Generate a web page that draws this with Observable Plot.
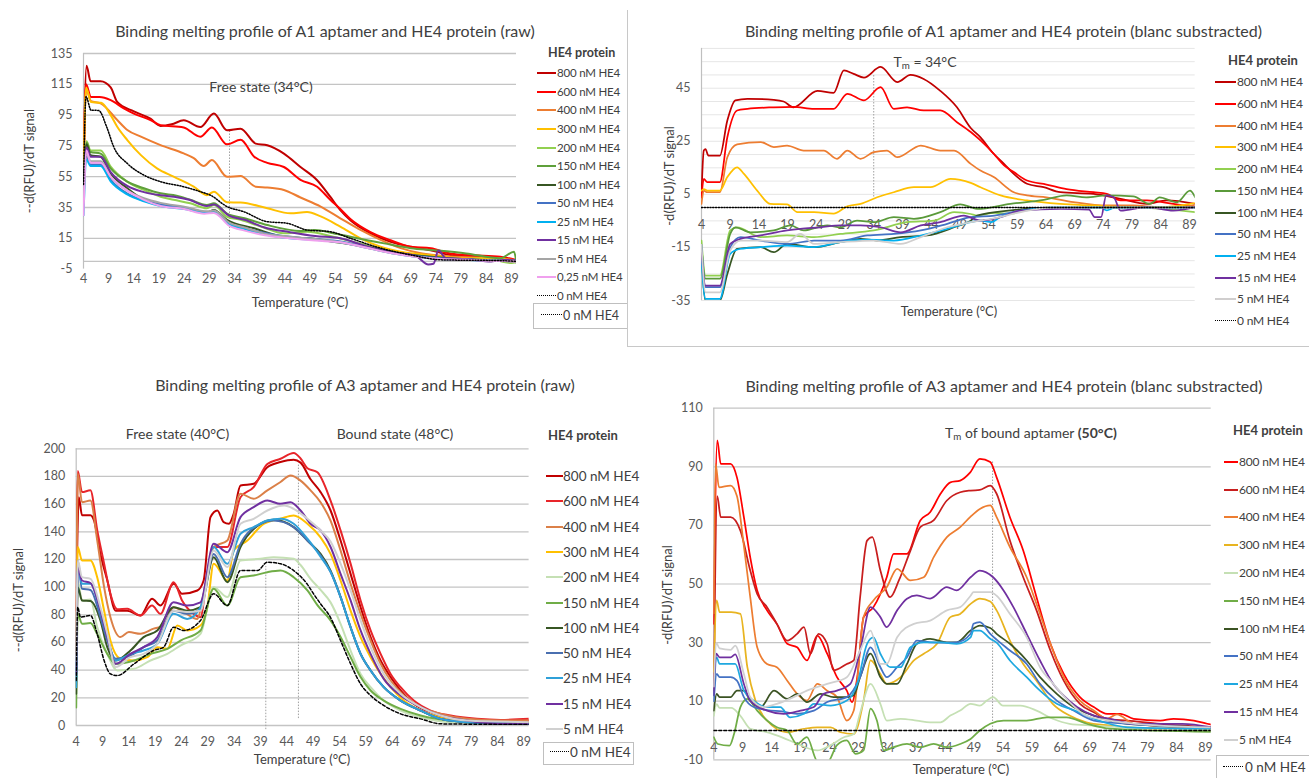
<!DOCTYPE html>
<html><head><meta charset="utf-8">
<script src="https://cdn.jsdelivr.net/npm/d3@7"></script>
<script src="https://cdn.jsdelivr.net/npm/@observablehq/plot@0.6"></script>
<style>
body{margin:0;background:#fff;}
#root{position:relative;width:1309px;height:778px;overflow:hidden;background:#fff;font-family:Lato,"Open Sans",sans-serif;color:#404040;}
.a{position:absolute;white-space:nowrap;line-height:1.2;}
sub{font-size:0.7em;vertical-align:-0.25em;line-height:0;}
</style></head><body><div id="root"></div>
<script>
// ---------- shared ----------
const tempTicks = [4,9,14,19,24,29,34,39,44,49,54,59,64,69,74,79,84,89];
const labelsA1raw = ["800 nM HE4","600 nM HE4","400 nM HE4","300 nM HE4","200 nM HE4","150 nM HE4","100 nM HE4","50 nM HE4","25 nM HE4","15 nM HE4","5 nM HE4","0,25 nM HE4","0 nM HE4"];
const labels12 = ["800 nM HE4","600 nM HE4","400 nM HE4","300 nM HE4","200 nM HE4","150 nM HE4","100 nM HE4","50 nM HE4","25 nM HE4","15 nM HE4","5 nM HE4","0 nM HE4"];

// ---------- Panel 1: A1 raw ----------
const a1raw_800 = [[4,50],[4.6,127],[5.4,117],[7.4,117],[9.4,113],[10.7,103.5],[14,97.4],[17.3,92.7],[19.3,88],[21.5,89],[23.9,91.6],[27.2,87.2],[29.9,96],[32.5,85.1],[35.2,86.2],[38.2,76.5],[40.5,75.4],[43.8,70],[47.1,61.3],[50.4,52.7],[53,42],[55,33.3],[57,26.8],[61,18.2],[65,12.7],[69,9.5],[72.9,7.3],[76.9,4.1],[81.5,3],[86.8,2],[90,0.8]];
const a1raw_600 = [[4,60],[4.5,115],[5.5,106.7],[7.2,106.7],[9.4,104.7],[12,99.4],[14,96],[17.3,91.8],[19.3,88.5],[23.9,87],[27.2,81],[29.5,87],[32.5,76],[35.2,79],[37.9,68],[40.5,64],[43.8,61.3],[47.1,53],[50.4,48.5],[53,40],[55,34],[57,27.5],[61,19],[65,13.7],[69,9.5],[73,8.5],[77,5],[81.5,4],[86.8,3],[90,0.8]];
const a1raw_400 = [[4,50],[4.5,112],[5.5,104],[7.4,102.6],[10.7,91.8],[12.7,85.3],[15.4,81],[19.3,75.5],[23.9,70.1],[25.9,67],[27.9,62],[29.5,65.8],[32.5,55],[35.2,55.4],[38.2,48.5],[40.5,48],[43.8,46.4],[47.1,41.5],[51.1,35.6],[55,28],[59,20.4],[63,14],[67,8.6],[71,5.3],[77,3.2],[86.8,2],[90,0.5]];
const a1raw_300 = [[4,50],[4.5,113],[5.5,103.5],[7.5,103],[9.4,95],[10.7,87.4],[12.7,78.8],[15.4,69],[18.6,60.4],[21.9,55],[25.9,48.5],[28.5,43],[29.9,45.3],[32.5,38.4],[35.2,38.2],[40.5,34.5],[45.1,31.2],[48.4,32],[51.1,29.2],[55,22.6],[59,15],[63,9.5],[67,6.3],[73,4],[80,2],[86,2],[90,0]];
const a1raw_200 = [[4,35],[4.6,78],[5.4,72],[7.4,72],[9.4,61.5],[12.7,51.8],[16,46.4],[19.3,42],[21.9,40],[25.2,37.7],[28.5,34.5],[29.9,36.6],[32.5,29],[35.2,27],[39.2,22.6],[43.8,18.2],[48.4,19.3],[53.6,16],[60,10.6],[67,5.2],[74,2.5],[80,1.5],[86,0.5],[89,-1],[90,-0.5]];
const a1raw_150 = [[4,40],[4.6,77],[5.4,71],[7.4,70],[9.4,60.4],[12.7,51.8],[16,47.5],[19.3,44.2],[22.5,42.7],[25.2,40],[28.5,36.6],[29.9,37.7],[32.5,31],[36,28],[40.5,23.6],[47.1,19.8],[50,20.4],[53.6,18.3],[57,16],[63.7,11.7],[69,8.6],[73.6,7.3],[80,5.2],[86.8,2],[89.5,6.3],[90,-1]];
const a1raw_100 = [[4,48],[4.6,76],[5.4,69],[7.4,68],[9.4,57],[12.7,47.5],[16,40],[19.3,36.6],[23.9,34.5],[28.5,31.7],[29.9,33.4],[32.5,27],[37.9,21.5],[43.8,16],[50.4,14.4],[53.6,12.8],[60,9.5],[67,5.2],[76.9,2],[90,0]];
const a1raw_50 = [[4,42],[4.6,68],[5.4,63],[7.4,63],[9.4,53],[12.7,44],[16,39.5],[19.3,37],[24,35],[28.5,32],[29.9,32],[33,24],[36,21.5],[40,18.5],[45,16],[50,14.5],[55,13],[60,9.5],[65,6],[70,3.5],[75,2],[80,1.5],[85,0.5],[90,0.5]];
const a1raw_25 = [[4,30],[4.6,66],[5.4,62],[7.4,62],[9.4,52],[12.7,43.5],[16,39],[19.3,36],[24,34],[28.5,31.5],[29.9,32],[33,24],[36,21],[40,17.5],[45,15],[50,14],[55,12.5],[60,9],[65,5.5],[70,3],[75,1.5],[80,1],[85,0.5],[90,0.5]];
const a1raw_15 = [[4,45],[4.6,74],[5.4,68],[7.4,68],[9.4,58],[12.7,49],[16,45],[19.3,43],[22,42],[25,40],[28.5,36],[29.9,37],[33,29.5],[36,27],[40,22],[45,19],[50,16.5],[55,15],[60,10],[65,6],[70,3.5],[72.5,-2],[73.5,-1.5],[74.5,7],[76,2],[80,1.5],[85,0],[88,1],[90,0.5]];
const a1raw_5 = [[4,38],[4.6,70],[5.4,65],[7.4,65],[9.4,55],[12.7,46],[16,41],[19.3,38],[24,35.5],[28.5,32.5],[29.9,33],[33,25],[36,22],[40,18],[45,16],[50,14.5],[55,12.5],[60,9],[65,5.5],[70,3],[75,1.5],[80,1],[85,0.5],[90,0]];
const a1raw_025 = [[4,30],[4.6,72],[5.4,64],[7.4,64],[9.4,55],[12.7,46],[16,40],[19.3,36],[24,34],[28,31],[29.9,31.5],[33,23],[36,20],[40,17],[45,15],[50,13.5],[55,12.5],[60,9],[65,5.5],[70,3],[75,1.5],[80,1],[85,0.5],[90,0]];
const a1raw_0 = [[4,50],[4.5,107],[5.5,98.2],[7,98],[8.6,87.4],[10,74.4],[12.7,63.6],[16,56],[19.3,51.8],[23.9,48.5],[27.2,45.3],[29.2,43],[32.5,35.6],[35.8,32.3],[40.5,25.8],[44.4,24.8],[48.4,20.4],[53,19.3],[57,15],[63,8.6],[69,4.2],[75,1],[86.8,0.5],[90,0]];
const a1rawTicks = [-5,15,35,55,75,95,115,135];

// ---------- Panel 2: A1 blanc subtracted ----------
const a1sub_800 = [[4,5],[4.4,21.5],[4.7,22],[5.2,19.6],[7.2,19.6],[8.5,32.8],[9.9,40.4],[12,41],[16.6,40.6],[18.3,40],[20,37.8],[24.2,44],[27,43.2],[28.8,51.7],[30.5,50.4],[32.3,49],[35.2,53],[38.1,47.3],[40.4,50],[42.7,48.5],[45.6,44],[48.5,37.8],[50.9,30],[52.6,26.5],[54.9,20.3],[56.7,16.5],[58.4,12.7],[60.7,9],[63.6,7.7],[66.5,5.8],[72.3,5.2],[77,3.3],[81.6,1.4],[85,2.7],[90,1.4]];
const a1sub_600 = [[4,3.8],[4.4,10.8],[5,9.6],[7.2,9.6],[8.5,26.5],[10.2,36.6],[12,37.2],[16.6,37.8],[20,38],[23.6,37.2],[27,37.2],[29.4,42.9],[32.3,40.4],[35.2,45.4],[37.5,37.2],[39.8,37.8],[42.7,36.6],[45.6,36.6],[48.5,32.2],[50.9,28.5],[52.6,25.3],[54.9,20.3],[56.7,15.9],[58.4,13.4],[60.7,10.2],[64.1,8.7],[67.6,7],[72.3,5.8],[74.6,5.2],[77,2.7],[81.6,2.7],[86.2,1.4],[90,0.2]];
const a1sub_400 = [[4,1.4],[4.4,6.4],[5,5.8],[7.2,5.8],[8.5,19],[10.2,23.8],[14.3,24.7],[16.6,22.8],[18.9,23.4],[21.8,21.5],[25.3,21.5],[27.6,18.4],[29.4,21.5],[31.7,18.4],[34,20.9],[36.3,21.5],[38.1,19],[42.2,23.4],[45.6,21.5],[48,21.5],[50.9,16.5],[52.6,14],[54.9,11.5],[58.4,5.8],[60.7,4.6],[64.1,3.9],[68.8,2.1],[74.6,0.8],[79.2,0.8],[83.8,0.2],[90,0.8]];
const a1sub_300 = [[4,6.4],[4.4,7],[5,6.4],[7.2,6.4],[8.5,11.5],[10.2,15.2],[11.4,12.7],[13.7,6.4],[16,1.4],[18.9,1.2],[20.7,-1.7],[23.6,-1.7],[27,-2.3],[29.4,0.5],[31.7,1.4],[34.6,3.9],[37.5,5.8],[41,7.7],[43.9,7.7],[47.4,10.8],[50.9,9.3],[52.6,7.7],[56.1,4.6],[60.7,2.7],[66.5,1.4],[72.3,0.8],[78,0.2],[84,0.2],[90,1.7]];
const a1sub_200 = [[4,-12.4],[4.7,-25.6],[7.2,-25.6],[9,-8.6],[10.2,-7.4],[14.3,-11.1],[18.9,-10.5],[23.6,-11.1],[28.2,-9.9],[34,-8.6],[39.8,-5.5],[44.5,-4.9],[48,-1.7],[50.9,-2.4],[52,-3],[55,-2],[58,-2.3],[60.7,-0.5],[70,0],[80,0],[90,-1.7]];
const a1sub_150 = [[4,-15],[4.7,-26.8],[7.2,-26.8],[9,-9.9],[9.9,-7.4],[12.5,-9.3],[16.6,-8.6],[19.5,-6.7],[21.8,-8.6],[25.9,-6.7],[28.2,-7.4],[31.1,-4.9],[34,-5.5],[37.5,-3.6],[41,-4.2],[45.6,-1.7],[49.1,1.2],[50.9,0.2],[52,-0.5],[57.8,1.4],[63.6,2.9],[67.6,4.6],[71,3.9],[74.6,4.6],[79.2,4.2],[82.1,1.4],[83.8,3.9],[86.8,2],[89.1,6.4],[90,3.9]];
const a1sub_100 = [[4,-16],[4.7,-35],[7.2,-35],[8.5,-25],[10.2,-15.5],[14.3,-14.9],[16.6,-16.8],[18.9,-13.7],[23.6,-14.9],[28.2,-13],[31.7,-11.8],[34.6,-12.4],[38.7,-11.1],[43.3,-10.5],[48,-7.4],[50.9,-4.9],[52,-3],[58,-1],[64,0],[90,0]];
const a1sub_50 = [[4,-14],[4.7,-30],[7.2,-30],[9,-15],[10.8,-11.1],[14.3,-12.4],[18.9,-13.7],[23.6,-12.4],[28.2,-12.4],[32.9,-10.5],[37.5,-9.9],[42.2,-8.6],[46.8,-6.1],[50.9,-3.6],[55,-3],[60,-1],[65,0],[90,0]];
const a1sub_25 = [[4,-20],[4.7,-34.4],[7.2,-34.4],[9,-17.4],[10.8,-15.5],[14.3,-14.9],[18.9,-14.3],[23.6,-14.9],[28.2,-13],[32.9,-12.1],[37.5,-12.4],[42.2,-10.5],[46.8,-8],[50.9,-5.5],[52.6,-4.9],[54.5,-5.5],[56,-3.6],[60,-1],[65,0],[73.5,0],[74.6,-1],[76,0],[90,0]];
const a1sub_15 = [[4,-17],[4.7,-29.4],[7.2,-29.4],[9,-13.7],[10.8,-11.8],[14.3,-10.5],[18.9,-8.6],[21.2,-8],[24.7,-7.4],[28.2,-6.7],[31.7,-6.7],[35.2,-7.4],[38.7,-9.3],[42.2,-6.7],[45.6,-5.5],[49.7,-3],[52.6,-4.9],[56.1,-3.6],[59.6,-1.1],[66.5,-0.5],[71.5,-0.8],[72.5,-3.6],[73.6,-3.6],[74.5,4.6],[75.8,3.9],[77,-1.1],[81.6,0.2],[86.2,-1.1],[90,0.2]];
const a1sub_5 = [[4,-14],[4.7,-31.9],[7.2,-31.9],[9,-16.2],[10.8,-12.4],[14.3,-12.4],[18.9,-13],[21.2,-9.9],[23.6,-13.7],[28.2,-13],[34,-12.4],[38.7,-13.7],[42.2,-11.1],[46.8,-7.4],[50.9,-5.5],[55,-4],[60,-1.5],[65,0],[90,0]];
const a1sub_0 = [[4,0],[90,0]];
const a1subTicks = [-35,-15,5,25,45];

// ---------- Panel 3: A3 raw ----------
const a3raw_800 = [[4,83],[4.5,165],[5.1,152],[6.7,152],[7.4,148],[8.6,124],[9.9,105],[11.5,83],[13.7,83],[16.2,79.5],[18.4,91.6],[20,86.7],[22.5,102.4],[24.1,95.2],[27,97.6],[28.2,104.8],[29.5,150.6],[30.8,155.4],[32,147],[33,145.8],[33.9,153],[35.2,173.5],[37.7,174.7],[40.3,186.7],[42.8,190.4],[45.3,192],[46.6,190],[48.5,178],[50.4,168.7],[52.3,155.4],[54.2,133.7],[56.1,109.6],[58,85.5],[59.9,63.9],[61.8,47],[63.7,35],[65.6,25.3],[68.1,15.7],[71.3,9.6],[75.1,6],[80.1,4],[90,3.6]];
const a3raw_600 = [[4,52],[4.3,184],[5.1,168.7],[6.7,170],[8,141],[9.3,117],[10.5,95],[11.8,84],[13.7,84.3],[16.2,79.5],[18.4,86.7],[20,80.7],[22.5,103.6],[24.1,90.4],[26.3,80.7],[27.6,78.3],[28.9,109.6],[30.1,129],[32.7,129],[35.2,165],[37.7,172.3],[40.3,189],[42.8,192.8],[45.3,197],[46.6,193],[47.9,186],[49.8,183],[52.3,162.6],[54.2,141],[56.1,117],[58,90.4],[59.9,68.7],[61.8,51.8],[63.7,37.3],[65.6,27.7],[68.1,18],[71.3,10.8],[75.1,7.2],[80.1,4.8],[84.6,4],[90,4.8]];
const a3raw_400 = [[4,47],[4.3,182],[5.1,161.4],[6.7,162.6],[8,133.7],[9.3,100],[10.5,78.3],[12.4,63.9],[14,67.5],[16.2,66.3],[18.7,70],[20.6,72.3],[22.5,85.5],[24.4,82],[27,77],[28.2,95.2],[30.1,129],[32.7,133.7],[35.2,167.5],[37.7,163.9],[40.3,170],[42.8,176],[44.7,180.7],[46.6,177],[48.5,170],[50.4,161.4],[52.3,148],[54.2,126.5],[56.1,102.4],[58,80.7],[59.9,61.4],[61.8,44.6],[63.7,32.5],[66.2,21.7],[69.4,13.3],[73.2,8.4],[78.2,4.8],[84.6,3.6],[90,3.6]];
const a3raw_300 = [[4,52],[4.3,129],[5.1,119.3],[6.7,119.3],[8,107],[9.3,83],[10.5,61.4],[12.4,48.2],[15,47],[17.5,49.4],[19.4,56.6],[21.3,55.4],[23.2,72.3],[25.1,68.7],[27.6,72.3],[28.9,85.5],[30.1,116.9],[32.7,104.8],[33.9,126.5],[36.5,133.7],[39.6,145.8],[42.8,149.4],[45.3,151.8],[47.9,145.8],[50.4,136],[52.3,124],[54.2,104.8],[56.1,83],[58,63.9],[59.9,49.4],[61.8,37.3],[63.7,27.7],[66.2,18],[69.4,10.8],[73.2,6],[78.2,2.4],[90,1.7]];
const a3raw_200 = [[4,27.7],[4.3,104.8],[5.1,90.4],[6.7,91],[8,71],[9.9,51.8],[11.8,39.8],[15,41],[18.1,47],[21.3,51.8],[23.8,57.8],[27.6,66.3],[30.1,100],[32.7,92.8],[35.2,119.3],[39,120.5],[41.5,121.7],[45.3,120.5],[46.6,116],[48.5,106],[50.4,98],[52.3,89],[54.2,73.5],[56.1,54.2],[58,37.3],[59.9,27.7],[62.4,18],[65.6,10.8],[69.4,6],[75.1,2.4],[90,1.2]];
const a3raw_150 = [[4,13],[4.3,80.7],[5.1,73.5],[6.7,74],[8,66],[9.9,51.8],[11.5,44.6],[15,47],[18.1,51.8],[21.3,55.4],[23.8,61.4],[27.6,68.7],[30.1,98.8],[32.7,86.7],[35.2,107.2],[37.7,108.4],[40.3,110.8],[42.8,112],[45.3,107.2],[47.9,97.6],[49.8,87],[52.3,76],[54.2,64],[56.1,49.4],[58,35],[59.9,25.3],[62.4,18],[65.6,12],[69.4,7.2],[75.1,3.6],[90,1.2]];
const a3raw_100 = [[4,23],[4.3,100],[5.1,90.4],[6.7,90],[8.6,76],[9.9,56.6],[11.5,47],[14.3,54.2],[16.8,63.9],[19.4,68.7],[22.5,85.5],[25.1,83],[27.6,85.5],[30.1,121.7],[32.7,103.6],[35.2,129],[39,145.8],[41.5,148.7],[45.3,143.4],[47.9,133.7],[50.4,124],[52.3,112],[54.2,93],[56.1,71],[58,51.8],[59.9,39.8],[62.4,27.7],[65.6,18],[69.4,10.8],[73.2,4.8],[78.2,2.4],[90,1.2]];
const a3raw_50 = [[4,32],[4.3,119],[5.1,98.8],[6.7,98],[8.6,78.3],[9.9,61.4],[11.5,48.2],[14.3,50.6],[16.8,56.6],[19.4,61.4],[22.5,83],[25.1,80.7],[27.6,84.3],[30.1,124],[32.7,107.2],[35.2,131.3],[39,145.8],[41.5,148.2],[45.3,143.4],[47.9,133.7],[50.4,123],[52.3,111],[54.2,92.8],[56.1,71],[58,51.8],[59.9,39.8],[62.4,27.7],[65.6,18],[69.4,10.8],[73.2,4.8],[78.2,2.4],[90,1.2]];
const a3raw_25 = [[4,27.7],[4.3,114.5],[5.1,102.4],[6.7,102.4],[8.6,82],[9.9,63.9],[11.5,47],[14.3,51.8],[16.8,54.2],[19.4,59],[22.5,80.7],[25.1,77],[27.6,85.5],[30.1,129],[32.7,116.9],[35.2,138.6],[37.7,143.4],[40.3,148.2],[42.8,149.4],[45.3,145.8],[47.9,135],[50.4,122],[52.3,111],[54.2,92.8],[56.1,71],[58,51.8],[59.9,39.8],[62.4,27.7],[65.6,18],[69.4,10.8],[73.2,4.8],[78.2,2.4],[90,1.2]];
const a3raw_15 = [[4,37],[4.3,114.5],[5.1,104.8],[6.7,103],[8.6,83],[9.9,63.9],[11.5,44.6],[14.3,51.8],[16.8,56.6],[19.4,63.9],[22.5,89],[25.1,86.7],[27.6,89],[30.1,131.3],[32.7,125.3],[35.2,150.6],[37.7,157.8],[40.3,162.6],[42.8,160.2],[44.7,161.4],[46.6,155.4],[48.5,145.8],[50.4,141],[52.3,129],[54.2,109.6],[56.1,90.4],[58,68.7],[59.9,51.8],[62.4,33.7],[65.6,21.7],[69.4,13.3],[73.2,7.2],[78.2,3.6],[84.6,1.2],[90,1.2]];
const a3raw_5 = [[4,47],[4.3,119.3],[5.1,107.2],[6.7,106],[8.6,85.5],[9.9,66.3],[11.5,42.2],[14.3,49.4],[16.8,51.8],[19.4,59],[22.5,83],[25.1,82],[27.6,83],[30.1,126.5],[32.7,114.5],[35.2,145.8],[37.7,149.4],[40.3,155.4],[43.5,159],[45.3,156.6],[47.9,149.4],[50.4,141],[52.3,133],[54.2,117],[56.1,97.6],[58,76],[59.9,56.6],[62.4,37.3],[65.6,22.9],[69.4,13.3],[73.2,7.2],[78.2,3.6],[90,2.4]];
const a3raw_0 = [[4,32.5],[4.3,85.5],[4.8,78.3],[6.7,79.5],[8,66],[9.3,47],[10.5,37.3],[11.8,36.1],[15,44.6],[18.7,54.2],[20.6,56.6],[22.5,71],[24.4,68.7],[27.6,75.9],[30.1,95.2],[32.7,86.7],[35.2,112],[38.4,112],[40.3,118],[42.8,116.9],[45.3,112],[47.9,102],[49.1,95],[50.4,88],[52.3,78],[54.2,61.4],[56.1,44.6],[58,30],[59.9,21.7],[62.4,14.5],[65.6,8.4],[69.4,4.8],[73.2,1.2],[90,0.7]];
const a3rawTicks = [0,20,40,60,80,100,120,140,160,180,200];

// ---------- Panel 4: A3 blanc subtracted ----------
const a3sub_800 = [[4,36.4],[4.6,99],[5.2,91],[6.9,91],[8,86.4],[9.2,72.8],[10.3,59.1],[11.5,47.8],[13.2,41],[14.9,36.4],[16.7,29.6],[18.4,28.4],[20.1,23.9],[21.9,32.4],[23.6,26.2],[25.3,18.2],[27,13.6],[27.9,9.7],[28.8,18.2],[29.9,38.7],[31.6,42.1],[33.9,52.3],[35.1,60.3],[37.4,60.3],[39.7,71.7],[41.4,74.5],[43.2,80.8],[44.9,84.7],[46.6,85.3],[48.3,88],[50,92.7],[51.8,91.6],[52.9,86.4],[55.2,72.8],[57.5,61.4],[59.8,45.5],[62.2,29.6],[64.5,19.3],[67.3,11.4],[69.7,8],[72,5.7],[74.3,5.7],[76.6,4],[81.2,3.4],[83.5,4],[87,3.4],[89.3,2.3],[90,2]];
const a3sub_600 = [[4,13.6],[4.6,80],[5.2,72.8],[6.9,72.8],[8.6,68.2],[10.3,54.6],[11.5,46.6],[13.2,42.1],[14.9,36.4],[16.7,30.7],[18.4,33],[19.6,35.3],[20.7,26.2],[22.1,33],[23.6,29.6],[24.7,20.5],[27,22.7],[28.2,23.9],[29.3,45.5],[30.5,64.8],[31.4,66],[32.8,54.6],[34.5,45.5],[36,51.2],[38,61.4],[39.7,69.4],[42,71.7],[44.3,78.5],[46.6,81.3],[48.4,81.9],[50,82.1],[51.8,83.6],[52.9,80.8],[55.2,64.8],[57.5,52.3],[59.8,41],[62.2,27.3],[64.5,17],[67.3,9.1],[69.7,6.2],[72,4],[75.5,3.4],[81.2,2.3],[90,1.1]];
const a3sub_400 = [[4,40],[4.3,91],[4.9,83],[6.9,83.6],[8,80],[9.2,63],[10.3,45.5],[11.5,28.4],[13.2,22.7],[14.9,21.6],[16.7,17],[18.4,12.5],[20.1,10.2],[21.9,15.9],[23.6,13.6],[25.3,11.4],[27,3.4],[28.2,6.8],[29.9,38.7],[31.6,44.4],[33.9,48.9],[35.7,55.2],[38,51.2],[40.3,52.3],[42,59.1],[44.3,66],[46.6,69.4],[48.4,73],[50,75.6],[51.8,76.8],[52.9,72.8],[55.2,62.6],[58.1,52.3],[59.8,43.2],[62.2,29.6],[64.5,18.2],[67.3,10.2],[69.7,6.8],[72,4],[73.7,5.5],[76.6,2.3],[90,0.6]];
const a3sub_300 = [[4,20],[4.5,44.4],[5,40.4],[7,40.4],[8.6,39.8],[9.8,21.6],[11.2,10.2],[13.2,3.4],[16.7,-0.6],[19.6,0.6],[21.9,1.1],[24.2,1.1],[25.9,-0.6],[28.2,-1.2],[29.9,10.2],[31.1,23.9],[32.8,19.3],[33.9,15.9],[36.3,18.2],[38.6,23.9],[40.3,26.2],[42.6,29.6],[44.9,38.7],[46.6,39.8],[48.4,43.2],[50,45],[51.8,44],[52.9,41],[55.2,30.7],[57.5,22.7],[59.8,17],[62.6,9.1],[65.5,5.1],[68.4,2.8],[72.4,1.7],[81,0.6],[90,0]];
const a3sub_200 = [[4,5],[4.5,9],[5,7.7],[7,7.7],[8.6,5],[10.3,0.6],[13,-0.5],[16,-2.5],[18.4,-4.5],[21.9,-6.8],[24.2,-5],[26.5,-2.3],[28.2,-1.2],[29.3,6],[31.1,15.9],[32.8,9.1],[33.9,3.4],[36.3,4],[39.1,3.4],[41.4,2.8],[43.2,2.8],[44.9,5.1],[46.6,6.8],[48.4,9.1],[50,8.5],[51.2,10.2],[52.3,11.4],[54,8.5],[57,8.5],[59.8,6.8],[62.6,4],[65.5,2.3],[69.5,1.7],[75.3,1.1],[90,0]];
const a3sub_150 = [[4,-2.3],[4.7,-4.6],[6.7,-5.2],[7.5,-1.2],[8.6,8],[9.8,10.8],[11.5,6.8],[13.2,3.4],[14.9,1.1],[16.7,0],[18.4,-4.6],[20.1,-2.3],[21.9,-10.5],[23.6,-11],[25.3,-5],[27,-3.4],[28.5,-8],[29.9,-6.8],[31.1,7.5],[32.2,3.4],[33.4,-6.8],[35.1,-5.7],[37.4,-4.6],[39.7,-5.7],[42,-4.6],[44.3,-5.7],[46.6,-4.6],[48.4,-2.9],[50,0],[51.8,2.3],[54.1,3.4],[58.1,3.4],[61.6,4.5],[65,4.5],[68.5,2.3],[72.5,0.6],[90,-0.5]];
const a3sub_100 = [[4,6.8],[4.5,12.5],[5,11.4],[6.9,11.4],[8,13.6],[9.2,13.6],[10.3,10.2],[12.1,8],[14.4,13.6],[16.7,10.8],[18.4,12.5],[20.1,9.7],[22.5,12.5],[24.7,11.4],[27,11.4],[28.2,12],[29.3,18.2],[31.1,26.2],[32.8,18.2],[33.9,15.9],[35.7,15.9],[37.4,22.7],[39.1,29.6],[41.4,31.3],[44.3,30.1],[46,30.1],[48.4,34.1],[50,35.8],[51.8,35],[52.9,33],[55.2,29.6],[58.1,23.9],[60.4,18.2],[63.3,12.5],[66.2,8],[69.7,5.1],[75.5,2.3],[90,1.1]];
const a3sub_50 = [[4,10],[4.5,19.3],[5,18.2],[6.9,18.2],[8,17],[9.2,11.4],[10.9,8],[13.2,7],[15.8,6.5],[18.4,5.7],[21.3,6.8],[23.6,9.7],[27,11.4],[29.3,18.2],[31.1,28.4],[32.8,21.6],[33.9,18.2],[35.7,21.6],[37.4,25],[39.1,30.7],[41.4,30.1],[44.3,30],[46,30.1],[48.4,33],[48.9,36.4],[50,37],[51.8,33],[52.9,31],[55.2,27.3],[58.1,22.7],[60.4,15.9],[63.3,10.2],[66.2,6.8],[69.7,3.4],[75.5,2.3],[90,1.1]];
const a3sub_25 = [[4,12],[4.5,25],[5,22.7],[7.7,22.7],[9.2,13.6],[10.9,10.2],[13.2,8],[15.5,8],[17.2,4.5],[19.6,5.7],[21.3,9.1],[24.2,8.5],[27,10.2],[28.8,15.9],[30.5,29.6],[31.6,31.8],[32.8,26.2],[34.5,21.6],[36.3,21.6],[38,28.4],[40.3,30.1],[43.2,30.1],[46,29.6],[48.4,31.8],[48.9,34.1],[50,34.1],[51.8,31.3],[52.9,30],[55.2,23.9],[58.1,18.2],[60.4,13.6],[63.3,9.1],[66.2,7],[69.7,4],[75.5,1.1],[90,0.6]];
const a3sub_15 = [[4,12],[4.4,26.2],[5,25],[6.9,25],[7.7,26],[9.2,15.9],[10.3,10.2],[13.2,6.8],[16.1,5.7],[19,6.8],[21.3,8],[23,12.5],[25.3,13.6],[27.6,15.9],[29.3,27.3],[31.1,42.1],[32.8,38.7],[33.9,35.3],[35.7,41],[37.4,45],[39.1,46.1],[41.4,45],[44.3,48.9],[46,47.8],[48.4,52.3],[50,54.6],[52.3,52.3],[54.1,47.8],[55.8,42.1],[58.1,33],[60.4,23.9],[62.7,15.9],[64.5,11.9],[66.8,8],[69.7,5.1],[72.5,4],[76.5,2.3],[85,2.3],[90,1.1]];
const a3sub_5 = [[4,15],[4.4,30],[5,28],[6.9,27.5],[7.7,29],[9.2,19.3],[10.3,11.4],[12.6,8],[14.9,9.1],[17.8,11.4],[20.1,13.6],[23.6,15.9],[27,18.2],[29.3,27.3],[31.1,34.1],[32.8,22.7],[33.9,22.7],[35.7,31.8],[38.6,36.4],[41.4,37.5],[44.3,41],[46.6,42.1],[48.4,46],[48.9,47.2],[51.8,47.2],[52.9,46],[55.2,39.8],[58.1,31.8],[60.4,21.6],[62.7,15.9],[65.5,9.7],[68.4,5.1],[72.5,3.4],[81,1.7],[90,1.1]];
const a3sub_0 = [[4,0],[90,0]];
const a3subTicks = [-10,10,30,50,70,90,110];

// ---------- styles ----------
const FONT = "Lato, 'Open Sans', sans-serif";
const colA1raw = ["#C00000","#FF0000","#ED7D31","#FFC000","#92D050","#5FA03A","#375623","#4472C4","#00B0F0","#7030A0","#A5A5A5","#F0A0EE","#000000"];
const colA1sub = ["#C00000","#FF0000","#ED7D31","#FFC000","#92D050","#5A9A3A","#375623","#4472C4","#00B0F0","#7030A0","#D0CECE","#000000"];
const colA3raw = ["#C00000","#E8252A","#DB8048","#FFC000","#C5E0B4","#70AD47","#375623","#4A6FB0","#2FA0D8","#7030A0","#D0D0D0","#000000"];
const colA3sub = ["#FF0000","#C81E1E","#ED7D31","#E8B420","#C5E0B4","#70AD47","#3B5323","#4472C4","#1FA8E0","#7030A0","#D0D0D0","#000000"];

const root = document.getElementById("root");
function el(tag, css, html, parent) {
  const e = document.createElement(tag);
  e.className = "a";
  Object.assign(e.style, css);
  if (html != null) e.innerHTML = html;
  (parent || root).appendChild(e);
  return e;
}
function ctext(html, cx, cy, size, parent, extra) {
  return el("div", Object.assign({left: cx + "px", top: cy + "px", fontSize: size + "px", transform: "translate(-50%,-50%)"}, extra || {}), html, parent);
}
function ltext(html, x, cy, size, parent, extra) {
  return el("div", Object.assign({left: x + "px", top: cy + "px", fontSize: size + "px", transform: "translate(0,-50%)"}, extra || {}), html, parent);
}
function vtext(html, cx, cy, size, parent) {
  return el("div", {left: cx + "px", top: cy + "px", fontSize: size + "px", transform: "translate(-50%,-50%) rotate(-90deg)"}, html, parent);
}
function legendItem(label, color, dashed, x1, x2, tx, cy, size, parent, extra) {
  el("div", {left: x1 + "px", top: (cy - 1) + "px", width: (x2 - x1) + "px", height: "0px",
    borderTop: dashed ? "1.5px dotted #000" : "2px solid " + color}, "", parent);
  ltext(label, tx, cy, size, parent, extra);
}

function seriesLines(series, colors, sw, dash) {
  return series.map((s, i) => Plot.line(s, Object.assign({
    x: d => d[0], y: d => d[1], stroke: colors[i], curve: "monotone-x", clip: true,
    strokeWidth: i === series.length - 1 ? 1.5 : sw
  }, i === series.length - 1 ? {strokeDasharray: dash} : {})));
}

function makePlot(o) {
  const svg = Plot.plot({
    width: o.w, height: o.h,
    marginLeft: o.mL, marginRight: o.mR, marginTop: o.mT, marginBottom: o.mB,
    x: {domain: [4, 90], axis: null},
    y: {domain: o.yDomain, axis: null},
    style: {fontFamily: FONT, background: "transparent", overflow: "visible"},
    marks: [
      Plot.ruleY(o.grid, {stroke: o.gridColor, strokeWidth: o.gridWidth}),
      Plot.ruleX([4], {y1: o.yDomain[0], y2: o.yDomain[1], stroke: "#bfbfbf", strokeWidth: 1.2}),
      ...(o.vlines || []).map(v => Plot.ruleX([v[0]], {y1: v[1], y2: v[2], stroke: "#a0a0a0", strokeWidth: 1, strokeDasharray: "1.5,1.5"})),
      Plot.text(o.yTicks, {x: 4, y: d => d, text: d => String(d), textAnchor: "end", dx: -11, fontSize: 12.5, fill: "#595959"}),
      Plot.text(tempTicks, {x: d => d, y: o.xLabelY, text: d => String(d), dy: o.xLabelDy, fontSize: 12.5, fill: "#595959"}),
      ...seriesLines(o.series, o.colors, o.sw, o.dash)
    ]
  });
  Object.assign(svg.style, {position: "absolute", left: o.left + "px", top: o.top + "px"});
  (o.parent || root).appendChild(svg);
}

const tight = {letterSpacing: "-0.2px"};

// ---------- Panel 1 ----------
const p1 = el("div", {left: "0px", top: "0px", width: "627px", height: "347px", overflow: "hidden"});
makePlot({parent: p1, left: 0, top: 0, w: 627, h: 330, mL: 83, mR: 111, mT: 53, mB: 61.4,
  yDomain: [-5, 135], grid: [0, 15, 35, 55, 75, 95, 115, 135], gridColor: "#c4c4c4", gridWidth: 1.3,
  yTicks: a1rawTicks, xLabelY: -5, xLabelDy: 10, sw: 2, dash: "1.2,1.6",
  vlines: [[33, -2, 85]],
  series: [a1raw_800,a1raw_600,a1raw_400,a1raw_300,a1raw_200,a1raw_150,a1raw_100,a1raw_50,a1raw_25,a1raw_15,a1raw_5,a1raw_025,a1raw_0],
  colors: colA1raw});
ctext("Binding melting profile of A1 aptamer and HE4 protein (raw)", 325, 31, 16, p1);
ctext("Free state (34°C)", 261, 87, 14, p1);
vtext("--d(RFU)/dT signal", 30, 161, 13, p1);
ctext("Temperature (°C)", 300, 303, 13, p1);
ltext("<b>HE4 protein</b>", 548, 52, 12.5, p1);
labelsA1raw.forEach((lab, i) => legendItem(lab, colA1raw[i], i === 12, 537, 556, 557, 73.3 + i * 18.55, 11.5, p1, tight));
el("div", {left: "533px", top: "303px", width: "93px", height: "24px", border: "1px solid #bfbfbf"}, "", p1);
legendItem("0 nM HE4", "#000", true, 541, 562, 563, 315, 12.5, p1);

// borders
el("div", {left: "627px", top: "10px", width: "0px", height: "337px", borderLeft: "1px solid #c8c8c8"});
el("div", {left: "627px", top: "346px", width: "682px", height: "0px", borderTop: "1px solid #c8c8c8"});

// ---------- Panel 2 ----------
makePlot({left: 628, top: 0, w: 681, h: 346, mL: 73, mR: 114.3, mT: 47.9, mB: 46,
  yDomain: [-35, 60], grid: d3.range(-35, 61, 5), gridColor: "#e6e6e6", gridWidth: 1,
  yTicks: a1subTicks, xLabelY: 0, xLabelDy: 17, sw: 1.75, dash: "1.2,1.6",
  vlines: [[34, 4, 50]],
  series: [a1sub_800,a1sub_600,a1sub_400,a1sub_300,a1sub_200,a1sub_150,a1sub_100,a1sub_50,a1sub_25,a1sub_15,a1sub_5,a1sub_0],
  colors: colA1sub});
ctext("Binding melting profile of A1 aptamer and HE4 protein (blanc substracted)", 1003.5, 31, 16);
ctext("T<sub>m</sub> = 34°C", 925, 62, 14);
vtext("-d(RFU)/dT signal", 670, 176, 13);
ctext("Temperature (°C)", 949, 312, 13);
ltext("<b>HE4 protein</b>", 1228, 61, 13);
labels12.forEach((lab, i) => legendItem(lab, colA1sub[i], i === 11, 1215, 1236, 1237, 82.3 + i * 21.7, 12, undefined, tight));

// ---------- Panel 3 ----------
makePlot({left: 0, top: 347, w: 640, h: 431, mL: 75.7, mR: 111.4, mT: 101.3, mB: 53,
  yDomain: [0, 200], grid: d3.range(0, 201, 20), gridColor: "#c4c4c4", gridWidth: 1.3,
  yTicks: a3rawTicks, xLabelY: 0, xLabelDy: 16.7, sw: 2, dash: "3,2",
  vlines: [[40, -3, 115], [46.2, 5, 189]],
  series: [a3raw_800,a3raw_600,a3raw_400,a3raw_300,a3raw_200,a3raw_150,a3raw_100,a3raw_50,a3raw_25,a3raw_15,a3raw_5,a3raw_0],
  colors: colA3raw});
ctext("Binding melting profile of A3 aptamer and HE4 protein (raw)", 365, 385, 16);
ctext("Free state (40°C)", 177.5, 434, 14);
ctext("Bound state (48°C)", 395, 434, 14);
vtext("--d(RFU)/dT signal", 19, 600, 13);
ctext("Temperature (°C)", 302, 760, 13);
ltext("<b>HE4 protein</b>", 548, 436, 13);
labels12.slice(0, 11).forEach((lab, i) => legendItem(lab, colA3raw[i], false, 546, 563, 563, 476 + i * 25.3, 13.5));
el("div", {left: "543px", top: "741.7px", width: "89px", height: "21px", border: "1px solid #bfbfbf"});
legendItem("0 nM HE4", "#000", true, 550, 569, 570, 752, 13.5);

// ---------- Panel 4 ----------
makePlot({left: 640, top: 347, w: 669, h: 431, mL: 73.3, mR: 98.3, mT: 60.7, mB: 18.7,
  yDomain: [-10, 110], grid: d3.range(-10, 111, 20), gridColor: "#c4c4c4", gridWidth: 1.2,
  yTicks: a3subTicks, xLabelY: 0, xLabelDy: 17, sw: 1.75, dash: "3,2",
  vlines: [[52.2, 0, 92]],
  series: [a3sub_800,a3sub_600,a3sub_400,a3sub_300,a3sub_200,a3sub_150,a3sub_100,a3sub_50,a3sub_25,a3sub_15,a3sub_5,a3sub_0],
  colors: colA3sub});
ctext("Binding melting profile of A3 aptamer and HE4 protein (blanc substracted)", 1004, 386, 16);
ltext("T<sub>m</sub> of bound aptamer <b>(50°C)</b>", 945, 433, 14);
vtext("-d(RFU)/dT signal", 668, 595, 13);
ctext("Temperature (°C)", 961, 770, 13);
ltext("<b>HE4 protein</b>", 1233, 431, 13);
labels12.slice(0, 11).forEach((lab, i) => legendItem(lab, colA3sub[i], false, 1224, 1238, 1239, 461.7 + i * 27.8, 12, undefined, tight));
el("div", {left: "1216px", top: "755px", width: "120px", height: "22px", border: "1px solid #bfbfbf"});
legendItem("0 nM HE4", "#000", true, 1223, 1243, 1245, 766.5, 13.5);
</script></body></html>
